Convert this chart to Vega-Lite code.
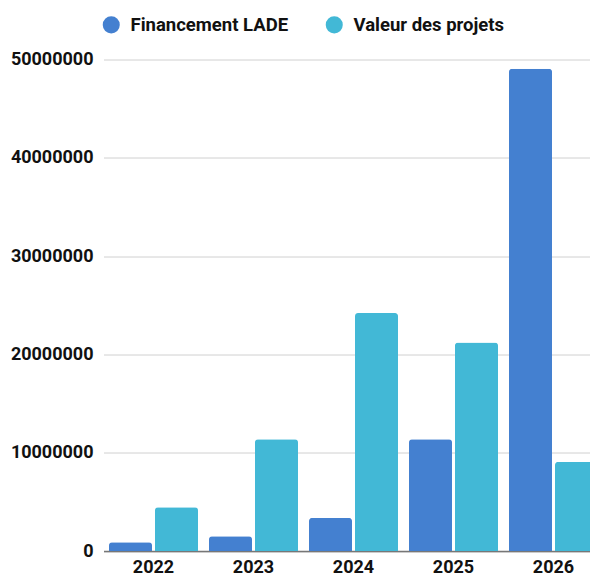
{
  "$schema": "https://vega.github.io/schema/vega-lite/v6.json",
  "autosize": {"type": "none"},
  "width": 482,
  "height": 491.5,
  "padding": {"left": 108, "top": 59.5, "right": 0, "bottom": 25},
  "background": "white",
  "config": {
    "view": {"stroke": null},
    "font": "Roboto"
  },
  "data": {
    "values": [
      {"year": "2022", "serie": "Financement LADE", "value": 890000},
      {"year": "2022", "serie": "Valeur des projets", "value": 4450000},
      {"year": "2023", "serie": "Financement LADE", "value": 1500000},
      {"year": "2023", "serie": "Valeur des projets", "value": 11370000},
      {"year": "2024", "serie": "Financement LADE", "value": 3360000},
      {"year": "2024", "serie": "Valeur des projets", "value": 24200000},
      {"year": "2025", "serie": "Financement LADE", "value": 11370000},
      {"year": "2025", "serie": "Valeur des projets", "value": 21200000},
      {"year": "2026", "serie": "Financement LADE", "value": 49050000},
      {"year": "2026", "serie": "Valeur des projets", "value": 9060000}
    ]
  },
  "mark": {"type": "bar", "cornerRadiusTopLeft": 3, "cornerRadiusTopRight": 3},
  "encoding": {
    "x": {
      "field": "year",
      "type": "nominal",
      "scale": {"range": [-4.5, 495.5], "paddingInner": 0.11, "paddingOuter": 0.055},
      "axis": {
        "title": null,
        "labelAngle": 0,
        "ticks": false,
        "domainColor": "#777777",
        "domainWidth": 1.5,
        "labelFont": "Roboto",
        "labelFontWeight": "bold",
        "labelFontSize": 18,
        "labelColor": "#111111",
        "labelPadding": 7
      }
    },
    "xOffset": {
      "field": "serie",
      "type": "nominal",
      "scale": {"paddingInner": 0.065, "paddingOuter": 0}
    },
    "y": {
      "field": "value",
      "type": "quantitative",
      "scale": {"domain": [0, 50000000], "nice": false},
      "axis": {
        "title": null,
        "values": [0, 10000000, 20000000, 30000000, 40000000, 50000000],
        "format": "d",
        "domain": false,
        "ticks": false,
        "gridColor": "#d0d0d0",
        "gridWidth": 1,
        "labelFont": "Roboto",
        "labelFontWeight": "bold",
        "labelFontSize": 18,
        "labelColor": "#111111",
        "labelPadding": 15
      }
    },
    "color": {
      "field": "serie",
      "type": "nominal",
      "scale": {"domain": ["Financement LADE", "Valeur des projets"], "range": ["#4480D0", "#42B8D6"]},
      "legend": {
        "title": null,
        "orient": "none",
        "direction": "horizontal",
        "legendX": -6,
        "legendY": -44,
        "symbolType": "circle",
        "symbolSize": 290,
        "symbolStrokeWidth": 0,
        "symbolOpacity": 1,
        "labelFont": "Roboto",
        "labelFontWeight": "bold",
        "labelFontSize": 18.5,
        "labelColor": "#111111",
        "labelOffset": 10,
        "columnPadding": 36
      }
    }
  }
}
